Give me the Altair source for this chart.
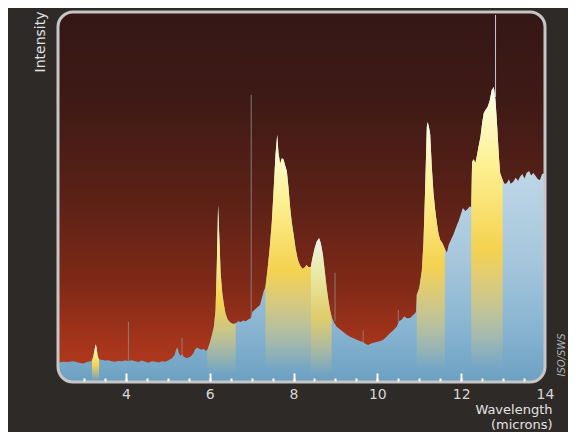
import altair as alt
import pandas as pd

# ---------------- data ----------------
WL = [2.38, 2.50, 2.62, 2.75, 2.88, 2.98, 3.08, 3.15, 3.19, 3.22, 3.25, 3.28, 3.30, 3.32, 3.34, 3.36,
      3.42, 3.50, 3.58, 3.66, 3.74, 3.82, 3.90, 3.98, 4.06, 4.14, 4.22, 4.30, 4.38, 4.46, 4.54, 4.62,
      4.70, 4.78, 4.86, 4.94, 5.02, 5.10, 5.16, 5.20, 5.23, 5.26, 5.30, 5.34, 5.38, 5.44, 5.50, 5.56,
      5.61, 5.65, 5.70, 5.75, 5.80, 5.86, 5.90, 5.94, 6.00, 6.05, 6.10, 6.14, 6.17, 6.20, 6.23, 6.26,
      6.30, 6.34, 6.38, 6.43, 6.50, 6.56, 6.62, 6.68, 6.74, 6.80, 6.86, 6.92, 6.98, 7.02, 7.08, 7.14,
      7.20, 7.25, 7.29, 7.33, 7.38, 7.43, 7.48, 7.53, 7.57, 7.61, 7.64, 7.68, 7.72, 7.76, 7.80, 7.84,
      7.88, 7.92, 7.96, 8.00, 8.05, 8.10, 8.15, 8.21, 8.26, 8.31, 8.36, 8.41, 8.45, 8.50, 8.55, 8.61,
      8.65, 8.70, 8.75, 8.79, 8.83, 8.87, 8.91, 8.96, 9.03, 9.11, 9.19, 9.27, 9.35, 9.43, 9.51, 9.59,
      9.66, 9.72, 9.78, 9.85, 9.92, 9.98, 10.06, 10.14, 10.22, 10.30, 10.38, 10.46, 10.52, 10.58, 10.64,
      10.70, 10.78, 10.84, 10.90, 10.92, 10.94, 11.00, 11.06, 11.10, 11.14, 11.18, 11.20, 11.23, 11.26,
      11.30, 11.34, 11.38, 11.42, 11.46, 11.50, 11.55, 11.61, 11.66, 11.70, 11.76, 11.82, 11.88, 11.94,
      12.00, 12.04, 12.10, 12.16, 12.20, 12.24, 12.26, 12.30, 12.34, 12.38, 12.42, 12.46, 12.50, 12.54,
      12.58, 12.63, 12.68, 12.73, 12.78, 12.82, 12.86, 12.90, 12.93, 12.99, 13.04, 13.09, 13.14, 13.18,
      13.24, 13.30, 13.36, 13.40, 13.46, 13.51, 13.56, 13.62, 13.67, 13.72, 13.78, 13.83, 13.88, 13.93,
      14.00]
FLUX = [5.3, 5.5, 5.4, 5.6, 5.2, 5.0, 5.4, 5.6, 5.8, 6.8, 8.6, 10.2, 9.3, 7.6, 6.6, 6.1,
        6.0, 5.8, 5.9, 5.6, 5.5, 5.7, 5.6, 5.8, 5.7, 5.9, 5.6, 5.4, 5.8, 5.5, 5.2, 5.6,
        5.5, 5.3, 5.6, 5.5, 5.9, 6.4, 7.2, 8.8, 9.4, 8.0, 7.0, 7.6, 6.8, 6.5, 6.6, 7.0,
        7.8, 8.8, 9.3, 9.0, 8.7, 8.9, 8.5, 8.6, 10.5, 12.6, 15.0, 19.5, 32.0, 47.8, 39.0, 29.5,
        24.0, 20.8, 18.4, 16.8, 16.0, 15.7, 15.9, 16.4, 16.2, 16.6, 16.4, 16.9, 17.3, 19.0, 19.6, 20.2,
        20.8, 23.0, 24.6, 25.7, 30.5, 36.0, 43.0, 53.0, 61.5, 66.8, 62.0, 59.0, 60.5, 60.2, 58.5, 57.0,
        52.5, 47.0, 43.0, 40.0, 36.0, 33.2, 31.6, 30.6, 30.9, 31.6, 31.0, 31.1, 33.5, 36.0, 37.9, 38.9,
        37.6, 34.5, 29.5, 25.5, 22.2, 19.5, 17.6, 16.2, 14.9, 14.2, 13.5, 12.8, 12.2, 11.8, 11.4, 11.0,
        10.8, 10.3, 10.0, 10.4, 10.6, 10.8, 11.0, 11.4, 12.2, 13.2, 14.0, 14.9, 16.5, 16.8, 17.8,
        17.2, 17.3, 18.0, 18.6, 19.0, 23.5, 25.4, 30.0, 37.6, 52.0, 68.9, 70.3, 69.0, 67.0,
        58.0, 51.0, 46.5, 43.0, 40.0, 38.4, 37.6, 36.0, 35.0, 37.0, 38.5, 40.0, 41.9, 43.5,
        45.6, 47.0, 46.2, 46.8, 47.4, 47.2, 59.5, 60.2, 59.2, 61.5, 64.0, 66.2, 70.0, 72.7,
        73.5, 74.3, 76.0, 78.9, 79.7, 76.0, 68.9, 61.0, 56.5, 54.6, 53.5, 53.8, 54.8, 53.6,
        54.1, 55.2, 54.4, 55.4, 56.2, 55.0, 56.5, 57.0, 55.8, 56.5, 55.6, 54.8, 54.6, 56.2,
        56.5]

BAND_NAME = ["3.3", "6.2", "7.7", "8.6", "11.3", "12.7"]
BAND_LO = [3.19, 5.94, 7.33, 8.41, 10.94, 12.24]
BAND_HI = [3.36, 6.62, 8.41, 8.91, 11.61, 12.99]
BAND_ALPHA = [1.0, 1.0, 1.0, 0.8, 1.0, 1.0]

SPIKE_WL = [4.06, 5.34, 6.99, 8.99, 9.66, 10.50, 12.82]
SPIKE_BASE = [5.7, 7.5, 17.5, 16.5, 10.8, 16.0, 77.0]
SPIKE_TOP = [16.3, 11.9, 77.6, 29.5, 14.0, 19.5, 99.2]
SPIKE_TONE = ["gray", "gray", "gray", "gray", "gray", "gray", "light"]

MINOR_TICKS = [3.0, 3.5, 4.0, 4.5, 5.0, 5.5, 6.0, 6.5, 7.0, 7.5, 8.0, 8.5, 9.0, 9.5,
               10.0, 10.5, 11.0, 11.5, 12.0, 12.5, 13.0, 13.5]
MAJOR_TICKS = [4, 6, 8, 10, 12]
LABEL_TICKS = [4, 6, 8, 10, 12, 14]

# ---------------- tables ----------------
spec = pd.DataFrame({"wl": WL, "flux": FLUX})
band_rows = []
for name, lo, hi, a in zip(BAND_NAME, BAND_LO, BAND_HI, BAND_ALPHA):
    for w, f in zip(WL, FLUX):
        if lo <= w <= hi:
            band_rows.append({"band": name, "wl": w, "flux": f, "alpha": a})
bands = pd.DataFrame(band_rows)
spikes = pd.DataFrame({"wl": SPIKE_WL, "base": SPIKE_BASE, "top": SPIKE_TOP, "tone": SPIKE_TONE})
one = pd.DataFrame({"k": [0]})

W, H = 487, 370
BG = "#2e2a27"
FONT = "DejaVu Sans"
XS = alt.Scale(domain=[2.38, 14.0], nice=False, zero=False)
YS = alt.Scale(domain=[0, 100], nice=False, zero=False)


def grad(stops):
    return alt.LinearGradient(
        gradient="linear", x1=0, x2=0, y1=0, y2=1,
        stops=[alt.GradientStop(color=c, offset=o) for o, c in stops])


bg_grad = grad([(0, "#341716"), (0.24, "#3e1a16"), (0.5, "#5a2117"),
                (0.73, "#7e2918"), (0.89, "#a4341b"), (1, "#b93c1d")])
blue_grad = grad([(0, "#d8e8f2"), (0.35, "#b9d3e4"), (0.59, "#a6c6db"),
                  (0.82, "#88b4d1"), (0.96, "#73a5c5"), (1, "#6c9fc0")])
yellow_grad = grad([(0, "rgba(255,253,232,1)"), (0.25, "rgba(253,242,150,1)"),
                    (0.55, "rgba(244,210,80,1)"), (0.75, "rgba(238,205,95,0.55)"),
                    (0.95, "rgba(238,205,95,0)"), (1, "rgba(238,205,95,0)")])

y_axis = alt.Axis(title="Intensity", labels=False, ticks=False, domain=False,
                  grid=False, titleColor="#e2e2e2", titleFont=FONT,
                  titleFontSize=14, titleFontWeight="normal", titleAngle=270,
                  titleAlign="right", titleBaseline="alphabetic",
                  titleX=-14, titleY=-1, zindex=1)

background = alt.Chart(one).mark_rect(fill=bg_grad, cornerRadius=15).encode(
    x=alt.value(0), x2=alt.value(W), y=alt.value(0), y2=alt.value(H))

label_axis = alt.Axis(values=LABEL_TICKS, ticks=False, domain=False, grid=False,
                      labelColor="#d6d6d6", labelFontSize=14, labelFont=FONT,
                      labelPadding=5, labelFlush=False, labelOverlap=False,
                      orient="bottom", zindex=1,
                      title=["Wavelength", "(microns)"], titleColor="#e2e2e2",
                      titleFont=FONT, titleFontSize=13, titleFontWeight="normal",
                      titleAlign="right", titleAnchor="end", titleBaseline="alphabetic",
                      titleX=W + 7, titleY=31, titleLineHeight=15)

blue = alt.Chart(spec).mark_area(color=blue_grad, interpolate="linear").encode(
    x=alt.X("wl:Q", scale=XS, axis=label_axis),
    y=alt.Y("flux:Q", scale=YS, axis=y_axis, stack=None))

major_axis = alt.Axis(values=MAJOR_TICKS, labels=False, domain=False, grid=False,
                      tickColor="#ffffff", tickWidth=2, tickSize=8, offset=-9,
                      orient="bottom", zindex=1, title=None)
band_layer = alt.Chart(bands).mark_area(color=yellow_grad, interpolate="linear").encode(
    x=alt.X("wl:Q", scale=XS, axis=major_axis),
    y=alt.Y("flux:Q", scale=YS, axis=y_axis, stack=None),
    detail="band:N",
    opacity=alt.Opacity("alpha:Q", scale=None))

minor_axis = alt.Axis(values=MINOR_TICKS, labels=False, domain=False, grid=False,
                      tickColor="#ffffff", tickWidth=2, tickSize=3, offset=-4,
                      orient="bottom", zindex=1, title=None)
spike_layer = alt.Chart(spikes).mark_rule(strokeWidth=1, opacity=0.85).encode(
    x=alt.X("wl:Q", scale=XS, axis=minor_axis),
    y=alt.Y("top:Q", scale=YS, axis=y_axis),
    y2="base:Q",
    color=alt.Color("tone:N", scale=alt.Scale(domain=["gray", "light"],
                                              range=["#8f8787", "#dce9f2"]), legend=None))

mask = alt.Chart(one).mark_rect(filled=False, stroke=BG, strokeWidth=7, cornerRadius=18.5).encode(
    x=alt.value(-3.5), x2=alt.value(W + 3.5), y=alt.value(-3.5), y2=alt.value(H + 3.5))

frame = alt.Chart(one).mark_rect(filled=False, stroke="#c6c6c6", strokeWidth=3, cornerRadius=15).encode(
    x=alt.value(0), x2=alt.value(W), y=alt.value(0), y2=alt.value(H))

credit = alt.Chart(pd.DataFrame({"t": ["ISO/SWS"]})).mark_text(
    angle=270, fontStyle="italic", fontSize=10, font=FONT, color="#b4b4b4",
    align="center", baseline="middle").encode(
    x=alt.value(W + 17), y=alt.value(343), text="t:N")

chart = alt.layer(background, blue, band_layer, spike_layer, mask, frame, credit).resolve_scale(
    x="independent").properties(
    width=W, height=H,
    autosize=alt.AutoSizeParams(type="none"),
    padding={"left": 50, "top": 4, "right": 23, "bottom": 50},
    background=BG,
).configure_view(strokeWidth=0)

chart.save("out.html", embed_options={"renderer": "svg", "actions": False})
